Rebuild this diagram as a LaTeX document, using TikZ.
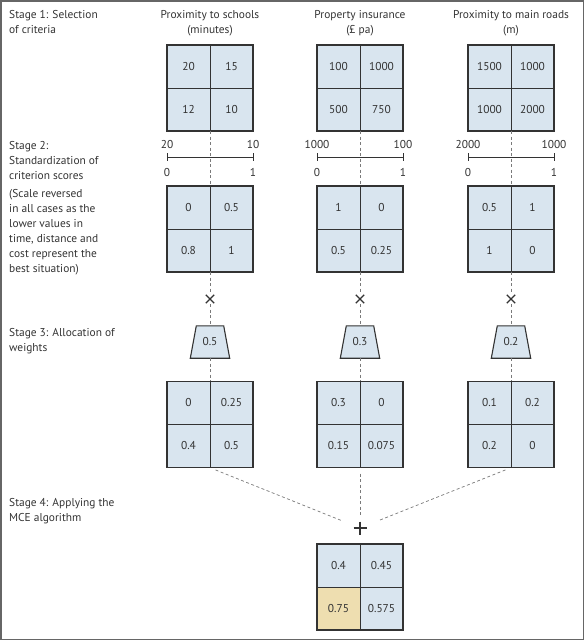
\documentclass[tikz,border=0pt]{standalone}
\usepackage{fontspec}
\setmainfont{PT Sans}
\usetikzlibrary{calc,fit}
\definecolor{ink}{HTML}{333333}
\definecolor{cellblue}{HTML}{D9E5EF}
\definecolor{cellyellow}{HTML}{EEDEB0}
\definecolor{dashgray}{HTML}{7A7A7A}
\definecolor{framegray}{HTML}{666666}
\newcommand\mygrid[7]{%
  \node[cell, anchor=south east] (#1a) at (#2,#3) {#4};
  \node[cell, anchor=south west] (#1b) at (#2,#3) {#5};
  \node[cell, anchor=north east] (#1c) at (#2,#3) {#6};
  \node[cell, anchor=north west] (#1d) at (#2,#3) {#7};
  \node[fit=(#1a)(#1d), inner sep=0pt] (#1) {};
  \draw[gridframe] (#1a.north west) rectangle (#1d.south east);
}
\newcommand\mytrap[4]{% name, x, y, text
  \node[minimum width=39pt, minimum height=32pt, inner sep=0pt] (#1) at (#2,#3) {};
  \draw[trapline] ($(#1.north west)+(6,0)$) -- ($(#1.north east)+(-6,0)$) -- (#1.south east) -- (#1.south west) -- cycle;
  \node at (#1) {#4};
}
\newcommand\mytimes[3]{% name, x, y
  \node[minimum size=10pt, inner sep=0pt] (#1) at (#2,#3) {};
  \draw[opline] ($(#1)+(-4.2,-4.2)$) -- ($(#1)+(4.2,4.2)$);
  \draw[opline] ($(#1)+(-4.2,4.2)$) -- ($(#1)+(4.2,-4.2)$);
}
\begin{document}
\begin{tikzpicture}[x=1pt,y=-1pt,
  font=\fontsize{11.4}{15}\selectfont, text=ink,
  cell/.style={draw=ink, line width=0.6pt, fill=cellblue, minimum size=43pt, inner sep=0pt, outer sep=0pt},
  gridframe/.style={draw=ink, line width=1.3pt},
  trapline/.style={draw=ink, line width=1.1pt, fill=cellblue},
  dashline/.style={draw=dashgray, dash pattern=on 3pt off 2.5pt, line width=0.7pt},
  lbl/.style={align=left, anchor=north west, inner sep=0pt},
  ttl/.style={align=center, anchor=north, inner sep=0pt},
  scl/.style={draw=ink, line width=0.7pt},
  opline/.style={draw=ink, line width=1.1pt},
]
\useasboundingbox (0,0) rectangle (584,640);
\draw[framegray, line width=1.5pt] (0.75,0.75) rectangle (583.25,639.25);

% stage labels
\node[lbl] (s1) at (9,10) {Stage 1: Selection\\of criteria};
\node[lbl] (s2) at (9,141.5) {Stage 2:\\Standardization of\\criterion scores};
\node[lbl] (s2b) at (9,189) {(Scale reversed\\in all cases as the\\lower values in\\time, distance and\\cost represent the\\best situation)};
\node[lbl] (s3) at (9,328) {Stage 3: Allocation of\\weights};
\node[lbl] (s4) at (9,498) {Stage 4: Applying the\\MCE algorithm};

% titles
\node[ttl] (t1) at (210,10) {Proximity to schools\\(minutes)};
\node[ttl] (t2) at (360,10) {Property insurance\\(£ pa)};
\node[ttl] (t3) at (511,10) {Proximity to main roads\\(m)};

% stage 1 grids
\mygrid{ga}{210}{88}{20}{15}{12}{10}
\mygrid{gb}{360}{88}{100}{1000}{500}{750}
\mygrid{gc}{511}{88}{1500}{1000}{1000}{2000}

% stage 2 grids
\mygrid{sa}{210}{229}{0}{0.5}{0.8}{1}
\mygrid{sb}{360}{229}{1}{0}{0.5}{0.25}
\mygrid{sc}{511}{229}{0.5}{1}{1}{0}

% stage 3 grids
\mygrid{wa}{210}{424.5}{0}{0.25}{0.4}{0.5}
\mygrid{wb}{360}{424.5}{0.3}{0}{0.15}{0.075}
\mygrid{wc}{511}{424.5}{0.1}{0.2}{0.2}{0}

% final grid
\mygrid{fg}{360}{587}{0.4}{0.45}{0.75}{0.575}
\fill[cellyellow] (fgc.north west) rectangle (fgc.south east);
\node at (fgc) {0.75};
\draw[ink, line width=0.6pt] (fgc.north west) rectangle (fgc.south east);
\draw[gridframe] (fga.north west) rectangle (fgd.south east);

% scales
\coordinate (la) at (167,157); \coordinate (ra) at (253,157);
\coordinate (lb) at (317,157); \coordinate (rb) at (403,157);
\coordinate (lc) at (468,157); \coordinate (rc) at (554,157);
\foreach \c/\l/\r in {a/20/10, b/1000/100, c/2000/1000}{
  \draw[scl] (l\c) -- (r\c);
  \draw[scl] ($(l\c)+(0,-4)$) -- ($(l\c)+(0,4)$);
  \draw[scl] ($(r\c)+(0,-4)$) -- ($(r\c)+(0,4)$);
  \node[inner sep=0pt] (lt\c) at ($(l\c)+(0,-12)$) {\l};
  \node[inner sep=0pt] (rt\c) at ($(r\c)+(0,-12)$) {\r};
  \node[inner sep=0pt] (lb\c) at ($(l\c)+(0,15.5)$) {0};
  \node[inner sep=0pt] (rb\c) at ($(r\c)+(0,15.5)$) {1};
}

% multiply signs and weights
\mytimes{xa}{210}{299}
\mytimes{xb}{360}{299}
\mytimes{xc}{511}{299}
\mytrap{ka}{210}{342}{0.5}
\mytrap{kb}{360}{342}{0.3}
\mytrap{kc}{511}{342}{0.2}

% vertical dashed connectors
\foreach \c in {a,b,c}{
  \draw[dashline] (g\c.south) -- (s\c.north);
  \draw[dashline] (s\c.south) -- (x\c.north);
  \draw[dashline] (x\c.south) -- (k\c.north);
  \draw[dashline] (k\c.south) -- (w\c.north);
}

% plus and final connectors
\node[minimum size=14pt, inner sep=0pt] (pl) at (360,528) {};
\draw[opline] ($(pl)+(-6.5,0)$) -- ($(pl)+(6.5,0)$);
\draw[opline] ($(pl)+(0,-6.5)$) -- ($(pl)+(0,6.5)$);
\draw[dashline, shorten <=6pt, shorten >=20pt] (wa.south) -- (pl.center);
\draw[dashline, shorten <=6pt, shorten >=4pt] (wb.south) -- (pl.north);
\draw[dashline, shorten <=6pt, shorten >=20pt] (wc.south) -- (pl.center);
\end{tikzpicture}
\end{document}
